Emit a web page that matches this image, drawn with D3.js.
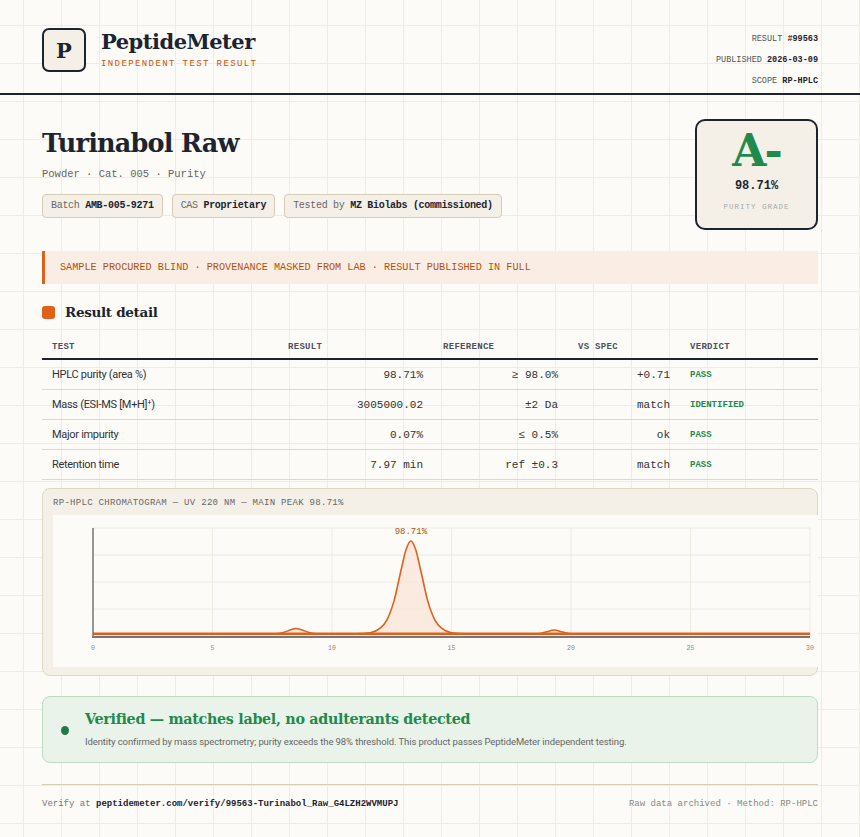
<!DOCTYPE html>
<html><head><meta charset="utf-8">
<script src="https://cdn.jsdelivr.net/npm/d3@7"></script>
<style>
body{margin:0;width:860px;height:837px;overflow:hidden;background-color:#fcfbf7;
background-image:linear-gradient(#eeece4 1px,transparent 1px),linear-gradient(90deg,#eeece4 1px,transparent 1px);background-size:38px 38px;background-position:-15px -13px;font-family:"DejaVu Sans Mono",monospace;color:#1c2430;position:relative}
.serif{font-family:"DejaVu Serif","Liberation Serif",serif}
.abs{position:absolute}
.mono{font-family:"Liberation Mono","DejaVu Sans Mono",monospace}
.chips{position:absolute;top:194px;left:42px;display:flex;gap:9px}
.chip{height:22px;line-height:22px;border:1px solid #d8ccb4;background:#f4f0e7;border-radius:4px;font-size:10px;padding:0 8px;color:#666;font-family:"Liberation Mono",monospace;letter-spacing:-.3px}
.chip b{color:#1c2430}
table{position:absolute;left:42px;top:336px;width:776px;border-collapse:collapse;font-size:11px;table-layout:fixed}
th{font-family:"Liberation Mono",monospace;font-size:9px;font-weight:bold;color:#4b5260;text-align:left;height:22px;border-bottom:2px solid #1c2430;letter-spacing:.3px;padding:0 0 0 10px}
td{height:29px;padding:0 10px 0 0;border-bottom:1px solid #e0d8c6;font-family:"Liberation Mono",monospace;font-size:11px;color:#333}
td.t{font-family:Roboto,"Liberation Sans",sans-serif;font-size:11px;padding-left:10px;letter-spacing:-.3px}
td.r{text-align:right}
td.v{font-size:9px;font-weight:bold;color:#1f8a4c;padding-left:10px}
</style></head><body>
<div class="abs" style="left:42px;top:28px;width:44px;height:44px;border:2px solid #1c2430;border-radius:7px;background:#f4f0e7;box-sizing:border-box;text-align:center;line-height:42px;font-size:21px;font-weight:bold"><span class="serif">P</span></div>
<div class="abs serif" style="left:101px;top:29px;font-size:21px;font-weight:bold;letter-spacing:-.5px">PeptideMeter</div>
<div class="abs mono" style="left:101px;top:59px;font-size:9px;letter-spacing:1.4px;color:#c5560f">INDEPENDENT TEST RESULT</div>
<div class="abs mono" style="right:42px;top:29px;font-size:8.5px;color:#555;text-align:right;line-height:21px">RESULT <b style="color:#1c2430">#99563</b><br>PUBLISHED <b style="color:#1c2430">2026-03-09</b><br>SCOPE <b style="color:#1c2430">RP-HPLC</b></div>
<div class="abs" style="left:0;top:93px;width:860px;height:2px;background:#1c2430"></div>
<div class="abs serif" style="left:42px;top:128px;font-size:25.5px;font-weight:bold;letter-spacing:-.8px">Turinabol Raw</div>
<div class="abs mono" style="left:42px;top:168px;font-size:10.5px;color:#666">Powder · Cat. 005 · Purity</div>
<div class="chips"><div class="chip">Batch <b>AMB-005-9271</b></div><div class="chip">CAS <b>Proprietary</b></div><div class="chip">Tested by <b>MZ Biolabs (commissioned)</b></div></div>
<div class="abs" style="left:695px;top:119px;width:123px;height:111px;border:2px solid #1c2430;border-radius:10px;background:#f4f0e7;box-sizing:border-box;text-align:center">
<div class="serif" style="font-size:44px;font-weight:bold;color:#1f8a4c;margin-top:4px;line-height:52px;letter-spacing:-2px">A-</div>
<div class="mono" style="font-size:12px;font-weight:bold;margin-top:2px">98.71%</div>
<div class="mono" style="font-size:7.5px;color:#aaa;letter-spacing:1px;margin-top:10px">PURITY GRADE</div></div>
<div class="abs mono" style="left:42px;top:251px;width:776px;height:33px;background:#faeee4;border-left:3px solid #e0601a;box-sizing:border-box;font-size:10.2px;color:#b5500f;line-height:33px;padding-left:15px">SAMPLE PROCURED BLIND · PROVENANCE MASKED FROM LAB · RESULT PUBLISHED IN FULL</div>
<div class="abs" style="left:42px;top:306px;width:13px;height:13px;background:#e0601a;border-radius:3px"></div>
<div class="abs serif" style="left:65px;top:304px;font-size:13.5px;font-weight:bold;letter-spacing:-.3px">Result detail</div>
<table id="tbl"><colgroup><col style="width:246px"><col style="width:145px"><col style="width:135px"><col style="width:112px"><col></colgroup><thead><tr><th>TEST</th><th style="padding-left:0">RESULT</th><th>REFERENCE</th><th>VS SPEC</th><th>VERDICT</th></tr></thead><tbody></tbody></table>
<div class="abs" style="left:42px;top:488px;width:776px;height:188px;background:#f4f0e7;border:1px solid #e0d8c6;border-radius:8px;box-sizing:border-box"></div>
<div class="abs mono" style="left:53px;top:498px;font-size:9px;color:#666;letter-spacing:.3px">RP-HPLC CHROMATOGRAM — UV 220 NM — MAIN PEAK 98.71%</div>
<svg id="chart" class="abs" style="left:53px;top:515px" width="765" height="152"></svg>
<div class="abs" style="left:42px;top:696px;width:776px;height:67px;background:#e9f3ea;border:1px solid #bcdcc4;border-radius:8px;box-sizing:border-box"></div>
<div class="abs" style="left:61px;top:726px;width:8px;height:9px;border-radius:50%;background:#1f7a45"></div>
<div class="abs serif" style="left:85px;top:711px;font-size:14.3px;font-weight:bold;color:#1f8a4c;letter-spacing:-.3px">Verified — matches label, no adulterants detected</div>
<div class="abs" style="left:85px;top:736px;font-size:9.5px;color:#666;font-family:Roboto,sans-serif;letter-spacing:-.1px">Identity confirmed by mass spectrometry; purity exceeds the 98% threshold. This product passes PeptideMeter independent testing.</div>
<div class="abs" style="left:42px;top:784px;width:776px;height:1px;background:#d8ccb4"></div>
<div class="abs mono" style="left:42px;top:799px;font-size:9px;color:#777">Verify at <b style="color:#1c2430">peptidemeter.com/verify/99563-Turinabol_Raw_G4LZH2WVMUPJ</b></div>
<div class="abs mono" style="right:42px;top:799px;font-size:9px;color:#888">Raw data archived · Method: RP-HPLC</div>
<script>
const tests=["HPLC purity (area %)","Mass (ESI-MS [M+H]⁺)","Major impurity","Retention time"];
const results=["98.71%","3005000.02","0.07%","7.97 min"];
const references=["≥ 98.0%","±2 Da","≤ 0.5%","ref ±0.3"];
const vsSpec=["+0.71","match","ok","match"];
const verdicts=["PASS","IDENTIFIED","PASS","PASS"];
const times=[0,7.6,8.0,8.3,8.5,8.7,9.0,9.4,11.0,11.6,12.0,12.3,12.6,12.9,13.1,13.3,13.5,13.7,14.0,14.3,14.6,15.0,15.6,18.6,19.0,19.3,19.6,20.0,30];
const signal=[2,2,3.5,6,7,6,3.5,2,2,3,7,15,33,62,80,88,80,62,33,15,7,3,2,2,4,5.5,4,2,2];
const xTicks=[0,5,10,15,20,25,30];

const tb=d3.select("#tbl tbody");
tests.forEach((t,i)=>{const r=tb.append("tr");
r.append("td").attr("class","t").text(t);
r.append("td").attr("class","r").text(results[i]);
r.append("td").attr("class","r").text(references[i]);
r.append("td").attr("class","r").text(vsSpec[i]);
r.append("td").attr("class","v").text(verdicts[i]);});

const svg=d3.select("#chart");
svg.append("rect").attr("width",765).attr("height",152).attr("fill","#fcfbf7");
const x=d3.scaleLinear().domain([0,30]).range([40,757]);
const y=d3.scaleLinear().domain([0,100]).range([121,13]);
[0,25,50,75,100].forEach(v=>svg.append("line").attr("x1",40).attr("x2",757).attr("y1",y(v)).attr("y2",y(v)).attr("stroke","#eeeae0"));
xTicks.forEach(v=>svg.append("line").attr("x1",x(v)).attr("x2",x(v)).attr("y1",13).attr("y2",121).attr("stroke","#eeeae0"));
const pts=times.map((t,i)=>[t,signal[i]]);
svg.append("path").datum(pts).attr("fill","#f9e6d8").attr("opacity",.8)
 .attr("d",d3.area().x(d=>x(d[0])).y0(y(2)).y1(d=>y(d[1])).curve(d3.curveMonotoneX));
svg.append("path").datum(pts).attr("fill","none").attr("stroke","#e0601a").attr("stroke-width",1.6)
 .attr("d",d3.line().x(d=>x(d[0])).y(d=>y(d[1])).curve(d3.curveMonotoneX));
svg.append("line").attr("x1",40).attr("x2",757).attr("y1",y(2)).attr("y2",y(2)).attr("stroke","#e0601a").attr("stroke-width",2.5);
svg.append("line").attr("x1",40).attr("x2",40).attr("y1",13).attr("y2",122).attr("stroke","#777").attr("stroke-width",1.5);
svg.append("line").attr("x1",39).attr("x2",757).attr("y1",122).attr("y2",122).attr("stroke","#777").attr("stroke-width",2);
xTicks.forEach(v=>svg.append("text").attr("x",x(v)).attr("y",135).attr("text-anchor","middle").attr("font-size",6.5).attr("fill","#888").attr("font-family","Liberation Mono").text(v));
svg.append("text").attr("x",x(13.3)).attr("y",19).attr("text-anchor","middle").attr("font-size",9).attr("fill","#b5500f").attr("font-family","Liberation Mono").text("98.71%");
</script>
</body></html>
